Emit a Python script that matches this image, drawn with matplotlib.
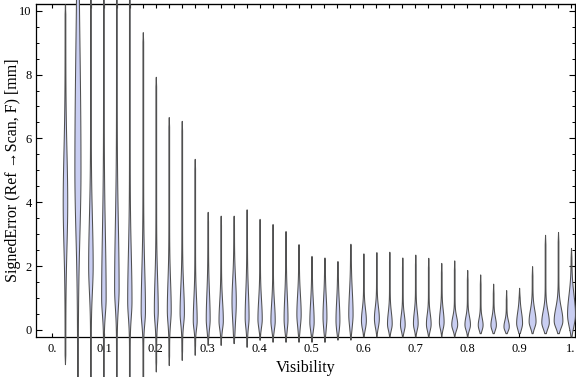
import numpy as np
import matplotlib.pyplot as plt

# violin positions (visibility bins)
positions = [0.025 * k for k in range(1, 41)]

# tail ends, bulge centre, bulge half-width (px), spread above / below
tops = [10.2, 12, 12, 12, 12, 12, 9.33, 7.93, 6.67, 6.55,
        5.36, 3.70, 3.58, 3.58, 3.78, 3.48, 3.32, 3.10, 2.69, 2.32,
        2.27, 2.16, 2.70, 2.40, 2.44, 2.45, 2.27, 2.36, 2.26, 2.10,
        2.18, 1.88, 1.74, 1.45, 1.25, 1.32, 2.00, 2.98, 3.07, 2.57]
bottoms = [-1.07, -2, -2, -2, -2, -2, -2, -1.3, -1.1, -0.94,
           -0.78, -0.47, -0.47, -0.41, -0.53, -0.31, -0.37, -0.37, -0.37, -0.37,
           -0.37, -0.3, -0.3, -0.2, -0.2, -0.2, -0.2, -0.2, -0.2, -0.2,
           -0.2, -0.2, -0.1, -0.1, -0.1, -0.1, -0.1, -0.1, -0.1, -0.2]
centers = [4.0, 5.0, 2.0, 1.0, 1.3, 0.9, 0.6, 0.63, 0.63, 0.55,
           0.3, 0.35, 0.3, 0.9, 0.4, 0.35, 0.3, 0.35, 0.5, 0.26,
           0.42, 0.31, 0.5, 0.31, 0.37, 0.21, 0.18, 0.22, 0.2, 0.26,
           0.18, 0.18, 0.15, 0.15, 0.1, 0.22, 0.28, 0.25, 0.3, 0.5]
widths_px = [1.9, 2.7, 1.9, 1.9, 1.9, 1.8, 1.8, 1.6, 1.6, 1.8,
             1.6, 1.6, 1.8, 1.8, 1.6, 1.8, 1.8, 1.6, 1.8, 1.8,
             1.6, 1.6, 1.8, 2.1, 2.1, 2.0, 2.0, 2.0, 2.0, 2.0,
             2.6, 2.4, 2.1, 2.4, 2.4, 2.6, 3.1, 3.4, 4.0, 3.6]
spread_up = [1.6, 4.0, 1.5, 2.0, 2.0, 1.5, 1.3, 1.0, 0.9, 0.8,
             0.7, 0.8, 0.6, 0.7, 0.8, 0.6, 0.55, 0.7, 0.6, 0.6,
             0.6, 0.6, 0.7, 0.35, 0.35, 0.35, 0.3, 0.35, 0.3, 0.35,
             0.25, 0.25, 0.22, 0.25, 0.2, 0.35, 0.35, 0.35, 0.4, 0.6]
spread_down = [1.4, 2.0, 0.8, 0.5, 0.6, 0.5, 0.4, 0.4, 0.4, 0.35,
               0.25, 0.3, 0.25, 0.6, 0.3, 0.25, 0.25, 0.3, 0.35, 0.25,
               0.35, 0.3, 0.35, 0.25, 0.25, 0.2, 0.2, 0.2, 0.2, 0.2,
               0.17, 0.17, 0.15, 0.15, 0.12, 0.2, 0.2, 0.2, 0.22, 0.35]

x_ticks = [0.0, 0.1, 0.2, 0.3, 0.4, 0.5, 0.6, 0.7, 0.8, 0.9, 1.0]
x_labels = ['0.', '0.1', '0.2', '0.3', '0.4', '0.5', '0.6', '0.7', '0.8', '0.9', '1.']
y_ticks = [0, 2, 4, 6, 8, 10]

plt.rcParams['font.family'] = ['Liberation Serif', 'DejaVu Serif']

fig = plt.figure(figsize=(5.76, 3.77), dpi=100)
ax = fig.add_axes([36 / 576, 40 / 377, 539 / 576, 333 / 377])

px = 1 / 519.0  # one pixel in x data units

for x, lo, hi, c, w, su, sd in zip(positions, bottoms, tops, centers, widths_px, spread_up, spread_down):
    y = np.linspace(lo, hi, 600)
    s = np.where(y > c, su, sd)
    hw = w * np.exp(-0.5 * ((y - c) / s) ** 2)
    ends = np.minimum(y - lo, hi - y)
    hw = hw + 0.35 * np.clip(ends / 0.3, 0, 1)
    hw = hw * px
    ax.fill_betweenx(y, x - hw, x + hw, facecolor='#c9cef2', edgecolor='#505050',
                     linewidth=0.75, clip_on=False, zorder=3)

ax.set_xlim(-0.0308, 1.0077)
ax.set_ylim(-0.22, 10.21)

ax.set_xticks(x_ticks)
ax.set_xticklabels(x_labels)
ax.set_yticks(y_ticks)
ax.set_yticks(np.arange(0, 10.5, 0.5), minor=True)
ax.tick_params(axis='both', which='both', direction='in', labelsize=9, colors='black')
ax.tick_params(axis='y', which='major', length=4.5, right=True, width=0.8)
ax.tick_params(axis='y', which='minor', length=2.5, right=True, width=0.7)
ax.tick_params(axis='x', which='major', length=3, width=0.8, pad=4)
ax.tick_params(axis='y', pad=3)

# top ticks at every bin
top = ax.secondary_xaxis('top')
top.set_xticks(np.arange(0, 1.001, 0.025))
top.tick_params(direction='in', length=3, width=0.8, labeltop=False)

for sp in ax.spines.values():
    sp.set_linewidth(0.9)

ax.set_xlabel('Visibility', fontsize=11.5, labelpad=4)
ax.set_ylabel('SignedError (Ref \u2192Scan, F) [mm]', fontsize=11.5, labelpad=-1)

fig.savefig('out.png', dpi=100)
